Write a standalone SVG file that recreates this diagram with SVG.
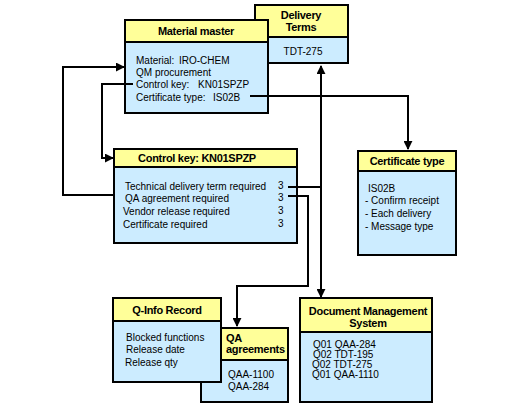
<svg xmlns="http://www.w3.org/2000/svg" width="527" height="407" viewBox="0 0 527 407">
<style>
.hd{fill:#FFFF99;stroke:#000;stroke-width:2}
.bd{fill:#CCECFF;stroke:#000;stroke-width:2}
.ht{font-family:"Liberation Sans",Arial,sans-serif;font-size:11px;font-weight:bold;fill:#000;letter-spacing:-0.3px}
.t{font-family:"Liberation Sans",Arial,sans-serif;font-size:10px;fill:#000}
.c{fill:none;stroke:#000;stroke-width:2}
.m{text-anchor:middle}
</style>
<defs>
<marker id="ah" viewBox="0 0 10 10" refX="9" refY="5" markerWidth="4.5" markerHeight="4.5" orient="auto" markerUnits="strokeWidth">
<path d="M0,0 L10,5 L0,10 z" fill="#000"/>
</marker>
<marker id="as" viewBox="0 0 10 10" refX="1" refY="5" markerWidth="4.5" markerHeight="4.5" orient="auto" markerUnits="strokeWidth">
<path d="M10,0 L0,5 L10,10 z" fill="#000"/>
</marker>
</defs>
<g id="delivery-terms">
<rect class="bd" x="255" y="5" width="93" height="58"/>
<rect class="hd" x="255" y="5" width="93" height="32"/>
<text class="ht m" x="301" y="19">Delivery</text>
<text class="ht m" x="301" y="31">Terms</text>
<text class="t m" x="303" y="55">TDT-275</text>
</g>
<g id="material-master">
<rect class="bd" x="125" y="20" width="143" height="93"/>
<rect class="hd" x="125" y="20" width="143" height="22"/>
<text class="ht m" x="196" y="35">Material master</text>
<text class="t" x="136" y="64">Material:<tspan x="179">IRO-CHEM</tspan></text>
<text class="t" x="136" y="76">QM procurement</text>
<text class="t" x="136" y="88">Control key:<tspan x="198">KN01SPZP</tspan></text>
<text class="t" x="136" y="101">Certificate type:<tspan x="213">IS02B</tspan></text>
</g>
<g id="control-key">
<rect class="bd" x="114" y="149" width="183" height="94"/>
<rect class="hd" x="114" y="149" width="183" height="18"/>
<text class="ht m" x="197" y="162">Control key: KN01SPZP</text>
<text class="t" x="125" y="190">Technical delivery term required</text>
<text class="t" x="125" y="202">QA agreement required</text>
<text class="t" x="123" y="215">Vendor release required</text>
<text class="t" x="123" y="228">Certificate required</text>
<text class="t" x="278" y="189">3</text>
<text class="t" x="278" y="201">3</text>
<text class="t" x="278" y="214">3</text>
<text class="t" x="278" y="227">3</text>
</g>
<g id="certificate-type">
<rect class="bd" x="358" y="151" width="98" height="104"/>
<rect class="hd" x="358" y="151" width="98" height="20"/>
<text class="ht m" x="407" y="165">Certificate type</text>
<text class="t" x="368" y="192">IS02B</text>
<text class="t" x="365" y="204">- Confirm receipt</text>
<text class="t" x="365" y="217">- Each delivery</text>
<text class="t" x="365" y="230">- Message type</text>
</g>
<g id="qa-agreements">
<rect class="bd" x="201" y="328" width="87" height="74"/>
<rect class="hd" x="201" y="328" width="87" height="32"/>
<text class="ht" x="226" y="342">QA</text>
<text class="ht" x="226" y="353">agreements</text>
<text class="t" x="228" y="378">QAA-1100</text>
<text class="t" x="228" y="390">QAA-284</text>
</g>
<g id="q-info-record">
<rect class="bd" x="113" y="298" width="108" height="84"/>
<rect class="hd" x="113" y="298" width="108" height="23"/>
<text class="ht m" x="167" y="314">Q-Info Record</text>
<text class="t" x="126" y="341">Blocked functions</text>
<text class="t" x="126" y="353">Release date</text>
<text class="t" x="125" y="366">Release qty</text>
</g>
<g id="document-management">
<rect class="bd" x="300" y="298" width="132" height="104"/>
<rect class="hd" x="300" y="298" width="132" height="34"/>
<text class="ht m" x="368" y="315">Document Management</text>
<text class="ht m" x="368" y="327">System</text>
<text class="t" x="313" y="348">Q01 QAA-284</text>
<text class="t" x="313" y="358">Q02 TDT-195</text>
<text class="t" x="312" y="368">Q02 TDT-275</text>
<text class="t" x="312" y="378">Q01 QAA-1110</text>
</g>
<g id="connectors">
<path class="c" d="M114,195 H63 V67 H124" marker-end="url(#ah)"/>
<path class="c" d="M133,84 H102 V158 H113" marker-end="url(#ah)"/>
<path class="c" d="M250,96 H408 V149" marker-end="url(#ah)"/>
<path class="c" d="M288,187 H321"/>
<path class="c" d="M321,66 V297" marker-start="url(#as)" marker-end="url(#ah)"/>
<path class="c" d="M288,196 H308 V286 H237 V326" marker-end="url(#ah)"/>
</g>
</svg>
